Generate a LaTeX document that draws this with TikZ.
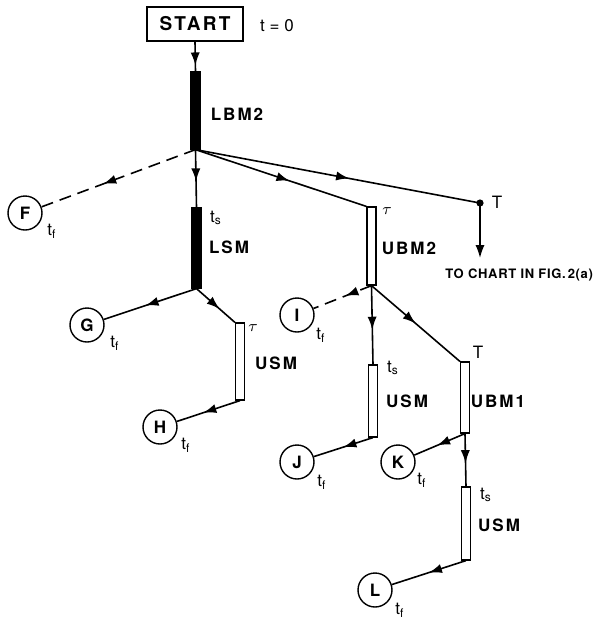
\documentclass[tikz,border=0pt]{standalone}
\usepackage{fontspec}
\setmainfont{TeX Gyre Heros}
\newfontfamily\stencil[LetterSpace=12]{TeX Gyre Heros}
\newfontfamily\stencilnarrow[LetterSpace=5]{TeX Gyre Heros}
\usetikzlibrary{arrows.meta,decorations.markings}

\newcommand{\tsub}[1]{t\textsubscript{#1}}

\tikzset{
  flow/.style={line width=0.8pt},
  midarrow/.style={postaction={decorate},
    decoration={markings,mark=at position #1 with {\arrow{Latex[length=6.5pt,width=4.6pt]}}}},
  midarrow/.default=0.55,
  solidbar/.style={draw,fill=black,line width=0.6pt,minimum width=4.5pt,inner sep=0pt},
  openbar/.style={draw,fill=white,line width=0.6pt,minimum width=4.5pt,inner sep=0pt},
  state/.style={circle,draw,line width=0.7pt,minimum size=17pt,inner sep=0pt,
    font=\fontsize{8.5}{9}\selectfont\bfseries},
  mode/.style={font=\fontsize{8.5}{9}\selectfont\stencil\bfseries,inner sep=0pt},
  tlab/.style={font=\fontsize{8.5}{9}\selectfont,inner sep=0pt},
}

\begin{document}
\begin{tikzpicture}[x=0.5pt,y=-0.5pt]
    \useasboundingbox (0,0) rectangle (614,617);

    % start of the chart
    \node[draw,line width=0.7pt,minimum width=48pt,minimum height=17pt,
      font=\fontsize{9.5}{10}\selectfont\stencil\bfseries] (start) at (195,24) {START};
    \node[tlab] (t0) at (277,26) {t = 0};

    % bars (modes)
    \node[solidbar,minimum height=38.5pt] (lbm) at (195.5,110.5) {};
    \node[solidbar,minimum height=40pt] (lsm) at (196.5,248) {};
    \node[openbar,minimum height=39pt] (ubm2) at (371.5,246) {};
    \node[openbar,minimum height=38.5pt] (usmA) at (240,361.5) {};
    \node[openbar,minimum height=36pt] (usmB) at (373,401) {};
    \node[openbar,minimum height=35.5pt] (ubm1) at (465,397.5) {};
    \node[openbar,minimum height=36.5pt] (usmC) at (466,523.5) {};

    % end states
    \node[state] (F) at (25,213) {F};
    \node[state] (G) at (87,325) {G};
    \node[state] (H) at (160,427) {H};
    \node[state] (I) at (297,315) {I};
    \node[state] (J) at (297,462) {J};
    \node[state] (K) at (398,462) {K};
    \node[state] (L) at (375,590) {L};

    % point T and exit
    \coordinate (tpt) at (480,203);
    \coordinate (exit) at (480,258);
    \fill (tpt) circle (1.8pt);

    % connectors
    \draw[flow,midarrow=0.8] (start.south) -- (lbm.north);
    \draw[flow,dash pattern=on 6pt off 3.5pt,midarrow=0.6] (lbm.south) -- (F);
    \draw[flow,midarrow=0.55] (lbm.south) -- (lsm.north);
    \draw[flow,midarrow=0.55] (lbm.south) -- (ubm2.north west);
    \draw[flow,midarrow=0.54] (lbm.south) -- (tpt);
    \draw[flow,-{Latex[length=6.5pt,width=4.6pt]}] (tpt) -- (exit);

    \draw[flow,midarrow=0.55] (lsm.south) -- (G);
    \draw[flow,midarrow=0.6] (lsm.south) -- (usmA.north west);
    \draw[flow,midarrow=0.58] (usmA.south) -- (H);

    \draw[flow,dash pattern=on 6pt off 3.5pt,midarrow=0.45] (ubm2.south) -- (I);
    \draw[flow,midarrow=0.56] (ubm2.south) -- (usmB.north);
    \draw[flow,midarrow=0.5] (ubm2.south) -- (ubm1.north west);
    \draw[flow,midarrow=0.5] (usmB.south) -- (J);

    \draw[flow,midarrow=0.55] (ubm1.south) -- (K);
    \draw[flow,midarrow=0.56] (ubm1.south) -- (usmC.north);
    \draw[flow,midarrow=0.5] (usmC.south) -- (L);

    % labels
    \node[mode] (lLBM) at (237,114) {LBM2};
    \node[tlab] (tsLSM) at (216,218) {\tsub{s}};
    \node[mode] (lLSM) at (229,247) {LSM};
    \node[tlab] (tauUBM) at (387,211) {$\tau$};
    \node[mode] (lUBM2) at (409,248) {UBM2};
    \node[tlab] (tT) at (497,202) {T};
    \node[font=\fontsize{6.5}{8}\selectfont\stencilnarrow\bfseries,inner sep=0pt,anchor=west] (chart) at (445,275) {TO CHART IN FIG.\,2(a)};

    \node[tlab] (tauUSM) at (253,328) {$\tau$};
    \node[mode] (lUSMA) at (276,363) {USM};
    \node[tlab] (tsUSMB) at (393,368) {\tsub{s}};
    \node[mode] (lUSMB) at (407,401) {USM};
    \node[tlab] (tT2) at (478,352) {T};
    \node[mode] (lUBM1) at (498,401) {UBM1};
    \node[tlab] (tsUSMC) at (486,495) {\tsub{s}};
    \node[mode] (lUSMC) at (499,525) {USM};

    \node[tlab] (tfF) at (52,231) {\tsub{f}};
    \node[tlab] (tfG) at (115,343) {\tsub{f}};
    \node[tlab] (tfH) at (186,445) {\tsub{f}};
    \node[tlab] (tfI) at (321,335) {\tsub{f}};
    \node[tlab] (tfJ) at (322,482) {\tsub{f}};
    \node[tlab] (tfK) at (422,480) {\tsub{f}};
    \node[tlab] (tfL) at (400,610) {\tsub{f}};

\end{tikzpicture}
\end{document}
